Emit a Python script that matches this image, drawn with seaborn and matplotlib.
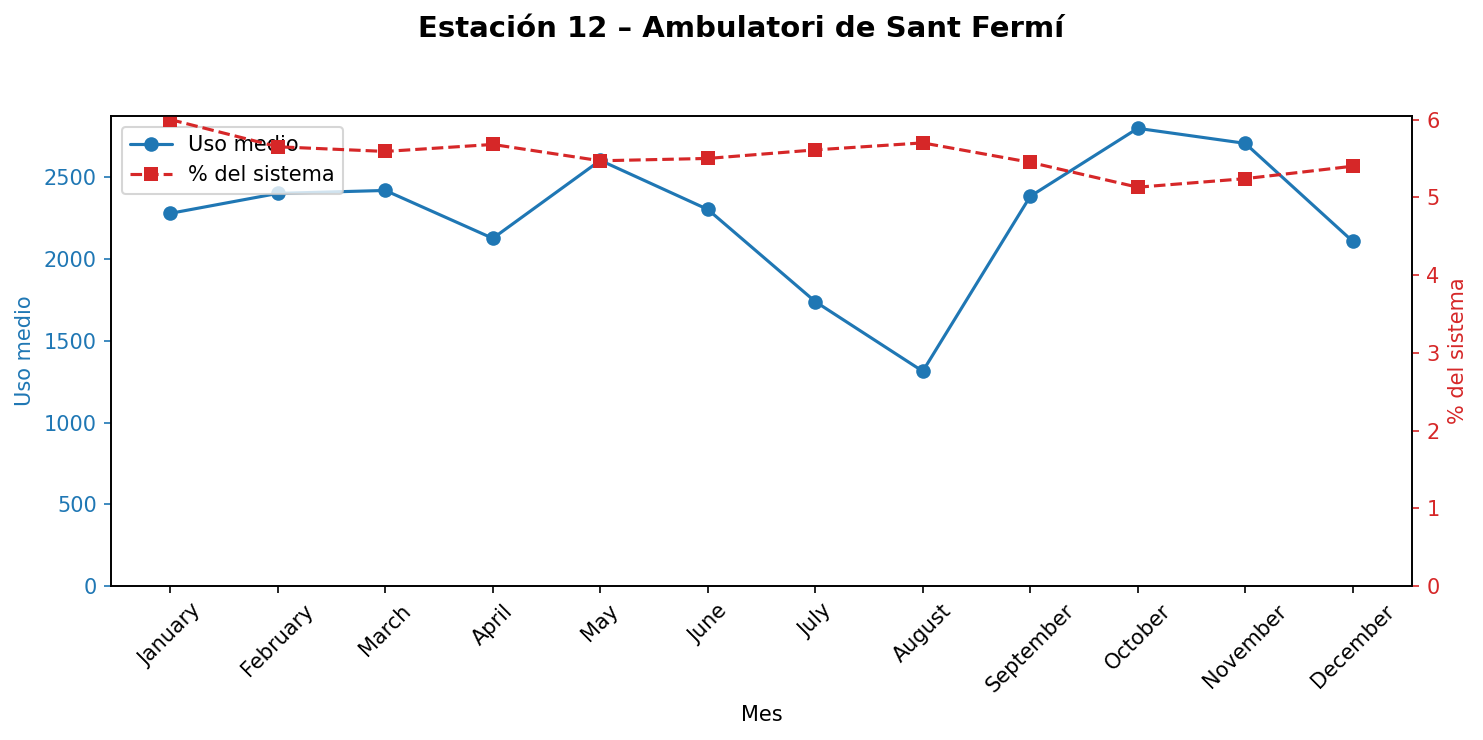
import matplotlib
matplotlib.use("Agg")
import matplotlib.pyplot as plt
import seaborn as sns
import pandas as pd

months = ["January", "February", "March", "April", "May", "June",
          "July", "August", "September", "October", "November", "December"]
uso_medio = [2280, 2402, 2420, 2127, 2604, 2304, 1740, 1314, 2384, 2800, 2708, 2109]
pct_sistema = [6.00, 5.65, 5.59, 5.68, 5.47, 5.50, 5.61, 5.70, 5.45, 5.13, 5.24, 5.40]

df = pd.DataFrame({"Mes": months, "uso": uso_medio, "pct": pct_sistema})

# plain matplotlib look: black text, thin spines, short ticks
sns.set_style("ticks", rc={
    "text.color": "black", "axes.labelcolor": "black",
    "xtick.color": "black", "ytick.color": "black",
    "axes.edgecolor": "black", "axes.linewidth": 0.8,
    "xtick.major.size": 3.5, "ytick.major.size": 3.5,
    "xtick.major.width": 0.8, "ytick.major.width": 0.8,
})

fig, ax1 = plt.subplots(figsize=(1483 / 150, 740 / 150), dpi=150)

blue = "#1f77b4"
red = "#d62728"

sns.lineplot(data=df, x="Mes", y="uso", ax=ax1, color=blue, marker="o",
             markersize=7, markeredgewidth=0, label="Uso medio", legend=False, sort=False)
ax1.set_ylim(bottom=0)
ax1.set_ylabel("Uso medio", color=blue)
ax1.set_xlabel("Mes")
ax1.tick_params(axis="y", colors=blue)
ax1.tick_params(axis="x", rotation=45)

ax2 = ax1.twinx()
sns.lineplot(data=df, x="Mes", y="pct", ax=ax2, color=red, marker="s",
             markersize=7, markeredgewidth=0, linestyle="--", label="% del sistema",
             legend=False, sort=False)
ax2.set_ylim(bottom=0)
ax2.set_ylabel("% del sistema", color=red)
ax2.tick_params(axis="y", colors=red)

h1, l1 = ax1.get_legend_handles_labels()
h2, l2 = ax2.get_legend_handles_labels()
ax1.legend(h1 + h2, l1 + l2, loc="upper left")

fig.suptitle("Estación 12 – Ambulatori de Sant Fermí", fontsize=14, fontweight="bold")
fig.subplots_adjust(left=0.075, right=0.952, top=0.843, bottom=0.208)
fig.savefig("out.png", dpi=150)
